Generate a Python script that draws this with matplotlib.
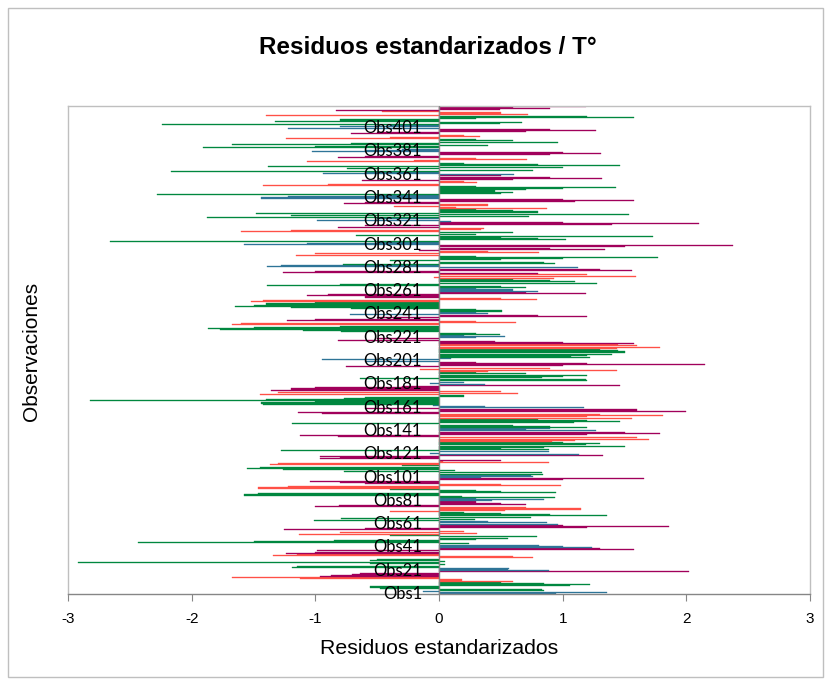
import matplotlib
matplotlib.use("Agg")
import matplotlib.pyplot as plt
from matplotlib.patches import Rectangle

# ---- data (observations Obs1 .. Obs420, bottom to top) ----
residuals = [
    0.95, 1.36, -0.13, 0.85, 0.83, -0.48, -0.56, 1.06, 1.22, 0.85, 0.50, 0.60, 0.19, -1.12, -1.67, -0.96, -0.87, -0.70, -0.64, 2.02,
    0.89, 0.56, 0.57, -1.19, -1.15, 0.05, -0.56, -2.92, 0.05, -0.56, -0.50, 0.76, 0.60, -1.34, -1.15, -1.24, -1.00, -0.99, 1.58, 1.30,
    1.24, 1.00, 0.81, 0.24, -2.43, -1.50, -0.85, 0.30, 0.56, 0.79, -0.40, -1.13, 0.31, -0.80, 0.20, -1.25, -0.60, 1.20, 1.86, 1.00,
    0.96, 0.87, 0.40, -1.01, 0.29, -0.79, 0.74, 1.36, 0.90, 0.50, 0.20, -0.40, 0.53, 1.15, 0.70, -1.00, -0.81, 0.70, 0.50, 0.30,
    0.43, 0.85, 0.30, 0.94, 0.19, -1.58, -1.46, 0.95, 0.50, 0.30, -0.40, -1.46, -1.22, 0.99, 0.50, -0.60, -0.80, -1.04, 1.00, 1.66,
    0.34, 0.76, 0.74, 0.84, 0.83, -0.77, 0.13, -1.26, -1.55, -1.45, -0.30, -1.37, -1.30, 0.89, 0.03, 0.50, -0.96, -0.80, -0.96, 1.33,
    1.13, -0.07, 0.89, -1.28, 0.89, 0.50, 0.85, 1.50, 1.19, 1.30, 1.00, 0.91, 1.10, 1.70, 1.60, -0.82, -1.12, 1.20, 1.79, 1.50,
    1.27, 0.70, 0.90, 1.20, 0.90, 0.60, -1.19, 1.09, 1.46, 1.20, 0.80, 1.56, 1.20, 1.81, 1.30, -0.95, -1.14, 2.00, 1.60, -0.60,
    1.17, 0.37, -0.05, -1.42, -1.44, -1.00, -2.82, -1.40, -0.77, -0.60, 0.20, -1.45, 0.64, -1.30, 0.50, -1.36, -1.20, -1.00, -0.30, 1.46,
    0.37, -0.07, 0.20, 1.20, 1.19, -0.64, 0.83, 1.00, 1.20, 0.70, 0.30, 0.40, 1.44, -0.15, 0.90, -0.75, 1.00, 2.15, 1.20, 0.30,
    -0.60, -0.95, 0.10, 1.22, 1.07, 1.20, 1.40, 1.50, 1.50, 1.45, 1.30, 1.44, 1.79, 1.60, 1.45, 1.58, 1.00, 0.45, -0.82, -0.50,
    0.30, 0.53, 0.20, 0.49, 0.30, -0.79, -1.10, -1.77, -1.87, -1.50, -0.80, -1.67, -1.60, 0.62, 0.30, -1.23, -1.00, -0.50, 1.20, 0.80,
    -0.72, 0.40, 0.30, 0.51, 0.30, -0.71, -1.20, -1.65, -1.50, -1.40, -1.00, -1.52, -1.42, 0.79, 0.50, -0.60, -1.07, -0.90, 1.19, 0.70,
    0.80, 0.60, 0.30, 0.70, 0.50, -1.39, -0.80, 1.28, 1.10, 0.90, 0.60, 0.93, -0.04, 1.59, 1.20, 0.80, -1.26, -1.00, 1.56, 1.30,
    1.12, -1.39, -1.28, -0.78, 0.94, 0.85, -0.40, 0.50, 1.00, 1.77, 0.30, -1.16, -1.00, 0.81, 0.40, -0.16, 1.34, 0.90, 1.50, 2.38,
    -1.58, -1.07, -0.50, -2.66, 1.03, 0.80, 0.50, 1.73, -0.67, 0.30, 0.60, -1.60, -1.20, 0.34, 0.36, -0.82, -0.60, 1.40, 2.10, 1.00,
    0.10, -0.99, -0.50, -1.88, 0.73, -1.20, 1.54, -1.48, 0.80, 0.60, 0.30, 0.87, 0.14, -0.36, 0.40, -0.77, -0.60, 1.10, 1.58, 1.00,
    -1.44, -1.22, -0.50, -2.28, 0.50, 0.60, 0.45, 0.70, 1.00, 1.43, 0.30, -1.42, -0.90, 0.31, 0.20, -0.62, 0.60, 1.32, 0.90, 0.50,
    0.61, -0.94, -0.60, -2.17, 0.76, -0.74, 1.00, -1.38, 1.46, 0.80, 0.20, -1.07, -0.20, 0.71, 0.30, -0.82, -0.60, 0.90, 1.31, 1.00,
    -1.03, -0.60, -0.30, -1.91, -1.00, 0.40, -1.67, -0.71, 0.96, 0.60, 0.30, -1.24, -0.40, 0.33, 0.20, -0.71, -0.50, 0.70, 1.27, 0.90,
    -1.22, -0.80, -0.40, -2.24, 0.49, 0.67, -1.33, -0.80, 0.30, 1.58, 1.20, -1.40, 0.72, 0.50, -0.46, -0.83, 0.49, 0.90, 0.60, 1.19,
]
# group of each observation inside every block of 20 observations
group_cycle = ["B"] * 3 + ["G"] * 8 + ["R"] * 4 + ["M"] * 5
group_colors = {"B": "#2E7497", "G": "#00873F", "R": "#FF5046", "M": "#A1005B"}
obs_labels = ["Obs%d" % k for k in range(1, len(residuals) + 1)]
label_step = 20
x_ticks = [-3, -2, -1, 0, 1, 2, 3]

title = "Residuos estandarizados / T°"
xlabel = "Residuos estandarizados"
ylabel = "Observaciones"

# ---- figure ----
W, H = 832, 686
fig = plt.figure(figsize=(W / 100, H / 100), dpi=100)
fig.patch.set_facecolor("white")

L, R, T, B = 68, 810, 106, 594
ax = fig.add_axes([L / W, 1 - B / H, (R - L) / W, (B - T) / H])

n = len(residuals)
pos = list(range(1, n + 1))
colors = [group_colors[group_cycle[i % len(group_cycle)]] for i in range(n)]
ax.barh(pos, residuals, height=0.9, color=colors, edgecolor=colors,
        linewidth=0.25, zorder=2)

ax.set_xlim(-3, 3)
ax.set_ylim(1, n)
ax.set_xticks(x_ticks)
ax.set_xticklabels([str(t) for t in x_ticks], fontsize=11, family="Liberation Sans")
ax.set_yticks([])
ax.tick_params(axis="x", direction="out", length=5, color="#868686", pad=8)

for side in ["top", "right", "left"]:
    ax.spines[side].set_color("#BFBFBF")
    ax.spines[side].set_linewidth(1.0)
ax.spines["bottom"].set_color("#868686")
ax.spines["bottom"].set_linewidth(1.0)
ax.axvline(0, color="#868686", linewidth=1.0, zorder=3)

for i in range(0, n, label_step):
    ax.text(-0.137, pos[i], obs_labels[i], ha="right", va="center",
            fontsize=12, family="Lato", color="black", zorder=4)

fig.text(428 / W, 1 - 48 / H, title, ha="center", va="center",
         fontsize=17.5, fontweight="bold", family="Liberation Sans")
fig.text(439 / W, 1 - 648 / H, xlabel, ha="center", va="center",
         fontsize=15.3, family="Liberation Sans")
fig.text(31 / W, 1 - 351 / H, ylabel, ha="center", va="center", rotation=90,
         fontsize=15, family="Liberation Sans")

fig.patches.append(Rectangle((8 / W, 1 - 677 / H), 815 / W, 669 / H,
                             transform=fig.transFigure, fill=False,
                             edgecolor="#BFBFBF", linewidth=1.0))

fig.savefig("out.png", dpi=100)
